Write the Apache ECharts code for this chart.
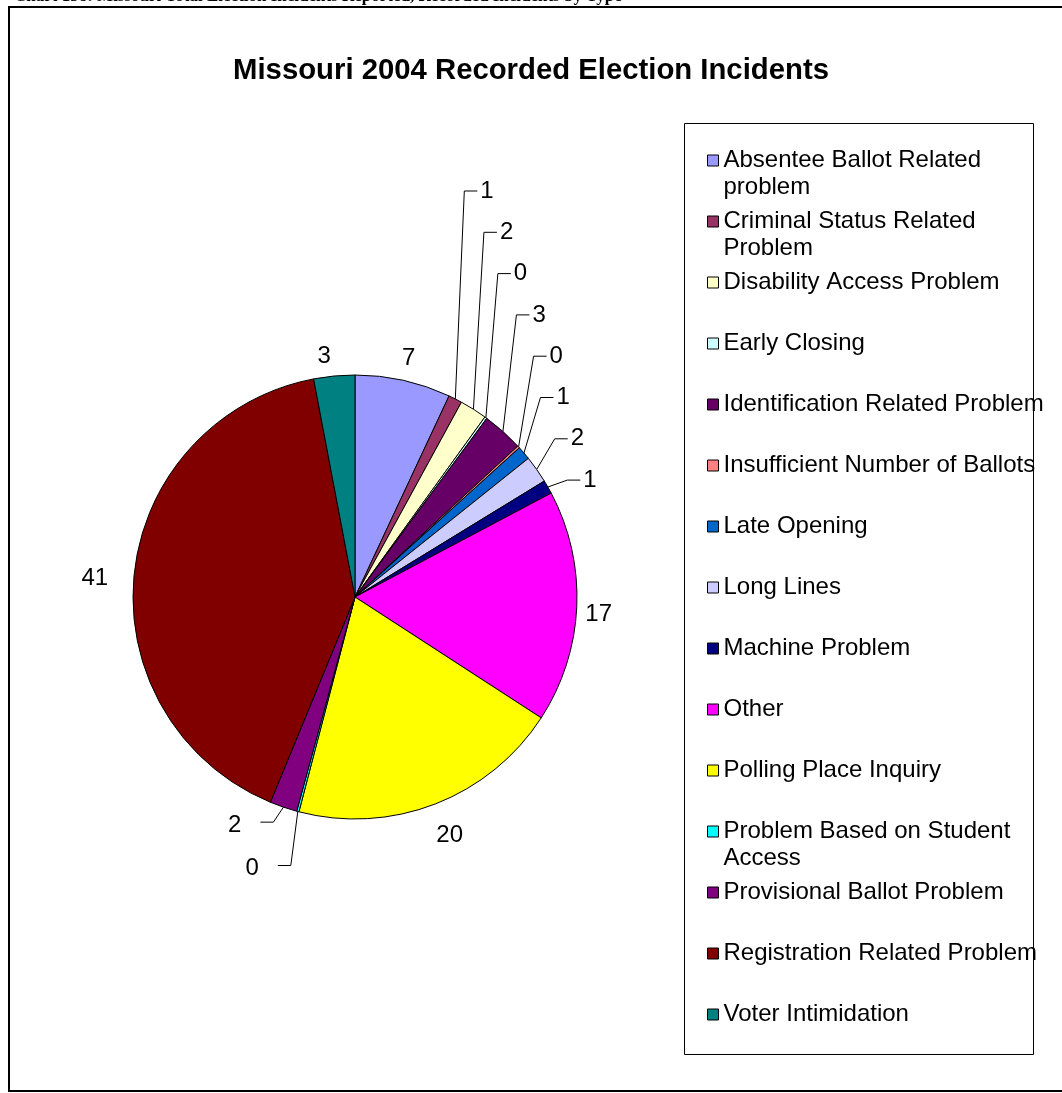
<!DOCTYPE html>
<html>
<head>
<meta charset="utf-8">
<script src="https://cdn.jsdelivr.net/npm/echarts@6/dist/echarts.min.js"></script>
<style>
  html, body { margin: 0; padding: 0; background: #ffffff; }
  #chart { width: 1062px; height: 1093px; }
</style>
</head>
<body>
<div id="chart"></div>
<script>
// Incident categories, in the order they are drawn (clockwise from 12 o'clock)
const categories = [
  'Absentee Ballot Related problem',
  'Criminal Status Related Problem',
  'Disability Access Problem',
  'Early Closing',
  'Identification Related Problem',
  'Insufficient Number of Ballots',
  'Late Opening',
  'Long Lines',
  'Machine Problem',
  'Other',
  'Polling Place Inquiry',
  'Problem Based on Student Access',
  'Provisional Ballot Problem',
  'Registration Related Problem',
  'Voter Intimidation'
];

// Recorded incidents per category
const incidents = [7, 1, 2, 0, 3, 0, 1, 2, 1, 17, 20, 0, 2, 41, 3];

// Legend text, wrapped where the entry runs over two lines
const legendLabels = [
  'Absentee Ballot Related\nproblem',
  'Criminal Status Related\nProblem',
  'Disability Access Problem',
  'Early Closing',
  'Identification Related Problem',
  'Insufficient Number of Ballots',
  'Late Opening',
  'Long Lines',
  'Machine Problem',
  'Other',
  'Polling Place Inquiry',
  'Problem Based on Student\nAccess',
  'Provisional Ballot Problem',
  'Registration Related Problem',
  'Voter Intimidation'
];

// Slice fills
const sliceColors = [
  '#9999FF', '#993366', '#FFFFCC', '#CCFFFF', '#660066',
  '#FF8080', '#0066CC', '#CCCCFF', '#000080', '#FF00FF',
  '#FFFF00', '#00FFFF', '#800080', '#800000', '#008080'
];

// ---- geometry of the pie ----
const CX = 355, CY = 597, R = 222;
const MIN_ANGLE = 0.6;          // keeps empty categories visible as a sliver
const FONT = '"Liberation Sans", Arial, sans-serif';

// mid angle (degrees clockwise from 12 o'clock) of each slice,
// using the same minAngle rule as the pie layout
const midAngles = (function () {
  const total = incidents.reduce((a, b) => a + b, 0);
  const unit = 360 / total;
  let rest = 360, largeSum = 0;
  const forced = incidents.map(v => v * unit < MIN_ANGLE);
  incidents.forEach((v, i) => { if (forced[i]) rest -= MIN_ANGLE; else largeSum += v; });
  const unit2 = rest / largeSum;
  let acc = 0;
  return incidents.map((v, i) => {
    const a = forced[i] ? MIN_ANGLE : v * unit2;
    const m = acc + a / 2;
    acc += a;
    return m;
  });
})();

// labels sitting just outside the big slices: [gap beyond the rim, x nudge, y nudge]
const plainLabel = {
  0: [24, 0, 3],
  9: [21, -1, 7],
  10: [33, 1, -3],
  13: [39, 2, 8],
  14: [22, -8, 3]
};
// small slices in the upper right: stacked labels with leader lines
const stackedFirst = 1, stackedLast = 8;
const stackTop = CY - 406, stackStep = 41.3;
// small slices at the bottom: leader drops down and to the left
const dropLeader = { 11: [-7, 54], 12: [-10, 15] };

function hasLeader(i) {
  return (i >= stackedFirst && i <= stackedLast) || dropLeader[i] !== undefined;
}

function placeLabel(params) {
  const i = params.dataIndex;
  const a = midAngles[i] * Math.PI / 180;
  const dx = Math.sin(a), dy = -Math.cos(a);
  const ex = CX + R * dx, ey = CY + R * dy;

  if (plainLabel[i] !== undefined) {
    const p = plainLabel[i];
    const w = params.labelRect.width, h = params.labelRect.height;
    const d = R + p[0] + Math.abs(dx) * w / 2 + Math.abs(dy) * h / 2 - 12;
    return { x: CX + dx * d + p[1], y: CY + dy * d + p[2], align: 'center', verticalAlign: 'middle' };
  }
  if (i >= stackedFirst && i <= stackedLast) {
    const k = i - stackedFirst;
    const ly = stackTop + k * stackStep;
    const bx = ex + 9 + 1.5 * k;
    return {
      x: bx + 16, y: ly, align: 'left', verticalAlign: 'middle',
      labelLinePoints: [[ex, ey], [bx, ly], [bx + 13, ly]]
    };
  }
  const off = dropLeader[i];
  const bx = ex + off[0], by = ey + off[1];
  return {
    x: bx - 32, y: by + 3, align: 'right', verticalAlign: 'middle',
    labelLinePoints: [[ex, ey], [bx, by], [bx - 13, by]]
  };
}

const chart = echarts.init(document.getElementById('chart'), null, { renderer: 'canvas' });

chart.setOption({
  animation: false,
  backgroundColor: '#ffffff',
  title: {
    text: 'Missouri 2004 Recorded Election Incidents',
    left: 'center',
    top: 56,
    padding: 0,
    textStyle: { fontFamily: FONT, fontSize: 29.3, fontWeight: 'bold', color: '#000000' }
  },
  legend: {
    orient: 'vertical',
    left: 707,
    top: 120,
    height: 960,
    padding: 0,
    itemGap: -20,
    itemWidth: 11,
    itemHeight: 11,
    icon: 'rect',
    selectedMode: false,
    itemStyle: { borderColor: '#000000', borderWidth: 1 },
    textStyle: { fontFamily: FONT, fontSize: 24, color: '#000000', lineHeight: 27 },
    // every entry is a three-line block so the marker sits on the first text line
    formatter: function (name) {
      const t = legendLabels[categories.indexOf(name)];
      return ' \n' + t + (t.indexOf('\n') < 0 ? '\n ' : '');
    },
    data: categories
  },
  graphic: [
    {
      type: 'rect', silent: true, z: 0,
      shape: { x: 9, y: 7, width: 1070, height: 1084 },
      style: { fill: 'none', stroke: '#000000', lineWidth: 2 }
    },
    {
      type: 'rect', silent: true, z: 0,
      shape: { x: 684.5, y: 123.5, width: 349, height: 931 },
      style: { fill: 'none', stroke: '#000000', lineWidth: 1 }
    },
    {
      type: 'text', silent: true, x: 14, y: 5,
      style: {
        text: 'Chart 138: Missouri Total Election Incidents Reported, Recorded Incidents by Type',
        font: 'bold 17px "Liberation Serif", "Times New Roman", serif',
        fill: '#000000', verticalAlign: 'bottom'
      }
    }
  ],
  series: [{
    type: 'pie',
    center: [CX, CY],
    radius: R,
    startAngle: 90,
    clockwise: true,
    minAngle: MIN_ANGLE,
    avoidLabelOverlap: false,
    emphasis: { disabled: true },
    itemStyle: { borderColor: '#000000', borderWidth: 1 },
    label: {
      show: true, position: 'outside', formatter: '{c}',
      fontFamily: FONT, fontSize: 24, color: '#000000'
    },
    labelLine: { show: true, length: 10, length2: 10, lineStyle: { color: '#000000', width: 1 } },
    labelLayout: placeLabel,
    data: categories.map((name, i) => ({
      name: name,
      value: incidents[i],
      itemStyle: { color: sliceColors[i] },
      labelLine: { show: hasLeader(i) }
    }))
  }]
});
</script>
</body>
</html>
